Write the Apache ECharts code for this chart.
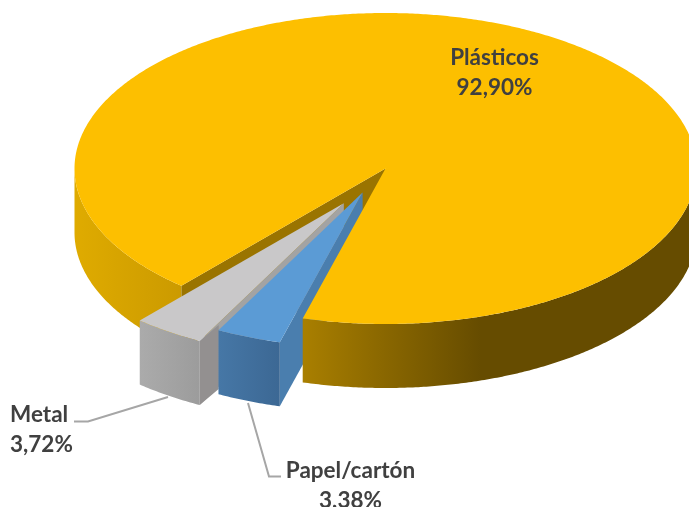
<!DOCTYPE html>
<html><head><meta charset="utf-8">
<style>html,body{margin:0;padding:0;background:#fff}#c{width:689px;height:507px}</style>
<script src="https://cdn.jsdelivr.net/npm/echarts@6/dist/echarts.min.js"></script>
</head><body><div id="c"></div>
<script>
const categories = ['Plásticos', 'Papel/cartón', 'Metal'];
const values = [92.90, 3.38, 3.72];

const START = 221, CX = 385.5, CY = 168.5, RX = 311, RY = 155.5, DEPTH = 64;
const EXPLODE = [{d:0,a:0},{d:53,a:205.6},{d:81,a:211}];
const LABELS = [
  {x:494.5,y:72.5,align:'center'},
  {x:350.5,y:486,align:'center'},
  {x:10,y:430,align:'left'}
];
const LEADERS = [null,
  [[248,403],[269,476.5],[281,476.5]],
  [[74,421.5],[88,421.5],[168,397]]
];
const STYLE = [
  {top:'#FDBF00', cut:'#9A7400'},
  {top:'#5B9BD5', cut:'#4A7EAE', front:[[0,'#4677A6'],[1,'#3C6894']]},
  {top:'#C9C8C9', cut:'#A3A3A3', front:[[0,'#ABABAB'],[1,'#9C9C9C']], side:'#939090'}
];
const total = values.reduce((a,b)=>a+b,0);
const rad = d => d*Math.PI/180;

function grad(x0,x1,stops){
  return new echarts.graphic.LinearGradient(x0,0,x1,0,
    stops.map(s=>({offset:s[0],color:s[1]})),true);
}
function renderItem(params, api){
  const i = params.dataIndex;
  let a0 = START;
  for(let k=0;k<i;k++) a0 += values[k]/total*360;
  const a1 = a0 + api.value(0)/total*360;
  const ex = EXPLODE[i];
  const ox = CX + ex.d*Math.sin(rad(ex.a)), oy = CY - ex.d*Math.cos(rad(ex.a))*RY/RX;
  const pt = (a,dz)=>[ox+RX*Math.sin(rad(a)), oy-RY*Math.cos(rad(a))+(dz||0)];
  const arc = (s,e,dz)=>{const n=Math.max(4,Math.ceil(Math.abs(e-s)*2)),r=[];
    for(let k=0;k<=n;k++) r.push(pt(s+(e-s)*k/n,dz)); return r;};
  const wall = (s,e)=>arc(s,e,0).concat(arc(e,s,DEPTH));
  const poly = (points,fill,z2)=>({type:'polygon',shape:{points},style:{fill},z2,silent:true});
  const kids = [];
  const st = STYLE[i];
  const tip=[ox,oy], tipD=[ox,oy+DEPTH];
  if(i===0){
    kids.push(poly(wall(270,a0),grad(75,183,[[0,'#DFAB00'],[1,'#CB9A00']]),1));
    const c=pt(a0), cd=pt(a0,DEPTH);
    kids.push(poly([tip,c,cd,tipD],st.cut,2));
    kids.push(poly(wall(90,a1-360),grad(303,689,[[0,'#A97F00'],[0.2,'#8B6800'],[0.46,'#664C00'],[1,'#664C00']]),30));
    kids.push(poly([tip].concat(arc(a0,a1)),st.top,31));
  } else {
    const base = i===2?10:20;
    const c=pt(a0), cd=pt(a0,DEPTH);
    kids.push(poly([tip,c,cd,tipD],st.cut,base));
    const fx=[c[0],pt(a1)[0]];
    kids.push(poly(wall(a0,a1),grad(Math.min(fx[0],fx[1]),Math.max(fx[0],fx[1]),st.front),base+1));
    kids.push(poly([tip].concat(arc(a0,a1)),st.top,base+2));
    if(st.side){
      kids.push(poly([c,cd,[c[0]+19,cd[1]-16],[c[0]+19,c[1]-16]],st.side,base));
    }
  }
  if(LEADERS[i]) kids.push({type:'polyline',shape:{points:LEADERS[i]},
    style:{stroke:'#A6A6A6',lineWidth:2,fill:null},z2:40,silent:true});
  const L = LABELS[i];
  kids.push({type:'text',silent:true,z2:50,x:L.x,y:L.y,style:{
    text:categories[i]+'\n'+api.value(0).toFixed(2).replace('.',',')+'%',
    font:'bold 22.5px Lato',fill:'#404040',align:L.align,verticalAlign:'middle',lineHeight:30}});
  return {type:'group',children:kids};
}
const chart = echarts.init(document.getElementById('c'),null,{renderer:'canvas'});
chart.setOption({
  animation:false,
  backgroundColor:'#fff',
  series:[{type:'custom',coordinateSystem:'none',renderItem,
    data:values.map(v=>[v])}]
});
</script></body></html>
